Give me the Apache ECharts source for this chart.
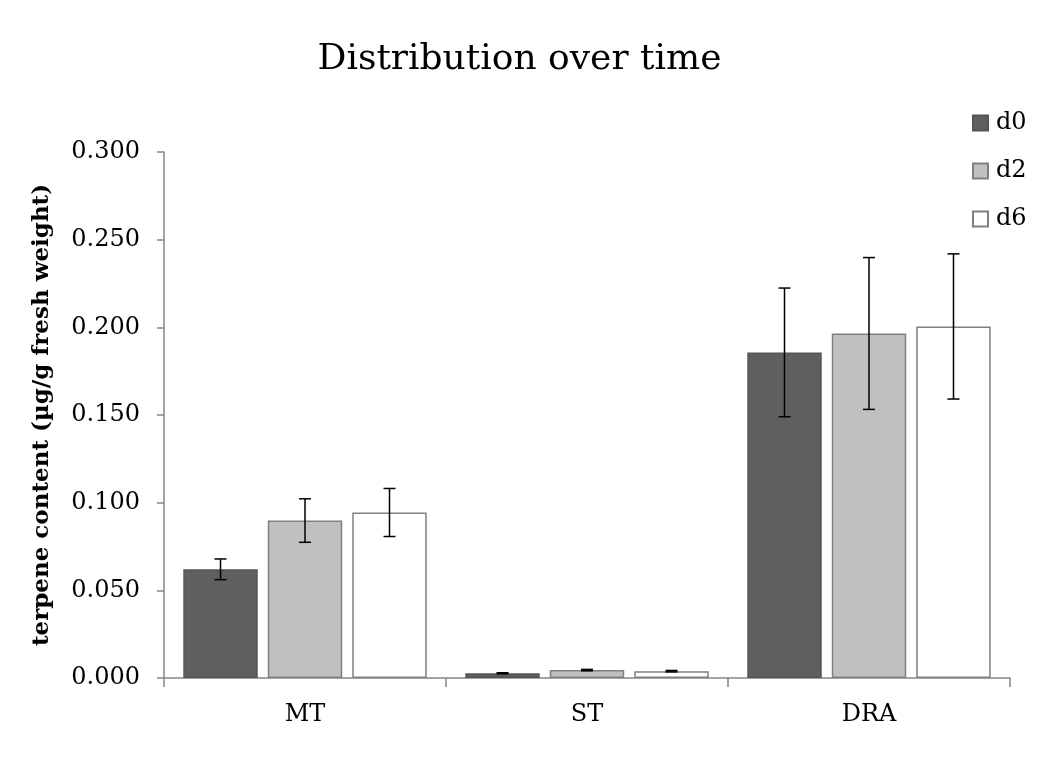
<!DOCTYPE html>
<html>
<head>
<meta charset="utf-8">
<script src="https://cdn.jsdelivr.net/npm/echarts@6/dist/echarts.min.js"></script>
<style>
html,body{margin:0;padding:0;background:#fff;}
#chart{width:1039px;height:758px;}
</style>
</head>
<body>
<div id="chart"></div>
<script>
const categories = ['MT', 'ST', 'DRA'];
const seriesNames = ['d0', 'd2', 'd6'];
const d0Values = [0.0620, 0.0027, 0.1857];
const d2Values = [0.0898, 0.0045, 0.1965];
const d6Values = [0.0944, 0.0039, 0.2005];
const d0Errors = [0.0059, 0.0003, 0.0367];
const d2Errors = [0.0124, 0.0004, 0.0433];
const d6Errors = [0.0137, 0.0004, 0.0414];
const yTicks = [0, 0.05, 0.1, 0.15, 0.2, 0.25, 0.3];

const values = [d0Values, d2Values, d6Values];
const errors = [d0Errors, d2Errors, d6Errors];
const fills = ['#5f5f5f', '#c0c0c0', '#ffffff'];
const borders = ['#555555', '#808080', '#808080'];

const FONT = '"DejaVu Serif", serif';
const BAR_W = 0.264;
const BAR_GAP = 0.135;

const chart = echarts.init(document.getElementById('chart'), null, {renderer: 'canvas'});

const barSeries = seriesNames.map((name, i) => ({
  name: name,
  type: 'bar',
  data: values[i],
  barWidth: (BAR_W * 100) + '%',
  barGap: (BAR_GAP * 100) + '%',
  itemStyle: {color: fills[i], borderColor: borders[i], borderWidth: 1.5},
  emphasis: {disabled: true},
  z: 2
}));

const errSeries = seriesNames.map((name, i) => ({
  name: name + '_err',
  type: 'custom',
  data: values[i].map((v, k) => [k, v - errors[i][k], v + errors[i][k]]),
  renderItem: function (params, api) {
    const k = api.value(0);
    const lo = api.coord([k, api.value(1)]);
    const hi = api.coord([k, api.value(2)]);
    const band = api.size([1, 0])[0];
    const bw = band * BAR_W;
    const off = (i - 1) * (bw + bw * BAR_GAP);
    const x = lo[0] + off;
    const cap = 6;
    const style = {stroke: '#000', lineWidth: 1.5};
    return {
      type: 'group',
      children: [
        {type: 'line', shape: {x1: x, y1: lo[1], x2: x, y2: hi[1]}, style: style},
        {type: 'line', shape: {x1: x - cap, y1: lo[1], x2: x + cap, y2: lo[1]}, style: style},
        {type: 'line', shape: {x1: x - cap, y1: hi[1], x2: x + cap, y2: hi[1]}, style: style}
      ]
    };
  },
  z: 5,
  silent: true
}));

chart.setOption({
  animation: false,
  backgroundColor: '#ffffff',
  title: {
    text: 'Distribution over time',
    left: 'center',
    top: 37,
    textStyle: {fontFamily: FONT, fontSize: 36, fontWeight: 'normal', color: '#000'}
  },
  legend: {
    orient: 'vertical',
    left: 972,
    top: 111,
    padding: 0,
    itemWidth: 15,
    itemHeight: 15,
    itemGap: 24,
    icon: 'rect',
    data: seriesNames,
    textStyle: {fontFamily: FONT, fontSize: 24, color: '#000', padding: [0, 0, 0, 3]}
  },
  grid: {left: 164, right: 29, top: 152, bottom: 80, containLabel: false},
  xAxis: {
    type: 'category',
    data: categories,
    boundaryGap: true,
    axisLine: {lineStyle: {color: '#868686', width: 1.5}},
    axisTick: {show: true, length: 9, alignWithLabel: false, lineStyle: {color: '#868686', width: 1.5}},
    axisLabel: {margin: 25, fontFamily: FONT, fontSize: 24, color: '#000'},
    splitLine: {show: false}
  },
  yAxis: {
    type: 'value',
    min: yTicks[0],
    max: yTicks[yTicks.length - 1],
    interval: yTicks[1] - yTicks[0],
    name: 'terpene content (µg/g fresh weight)',
    nameLocation: 'middle',
    nameGap: 110,
    nameTextStyle: {fontFamily: FONT, fontSize: 23, fontWeight: 'bold', color: '#000'},
    axisLine: {show: true, lineStyle: {color: '#868686', width: 1.5}},
    axisTick: {show: true, length: 7, lineStyle: {color: '#868686', width: 1.5}},
    axisLabel: {margin: 24, fontFamily: FONT, fontSize: 24, color: '#000',
      formatter: v => v.toFixed(3)},
    splitLine: {show: false}
  },
  series: barSeries.concat(errSeries)
});
</script>
</body>
</html>
